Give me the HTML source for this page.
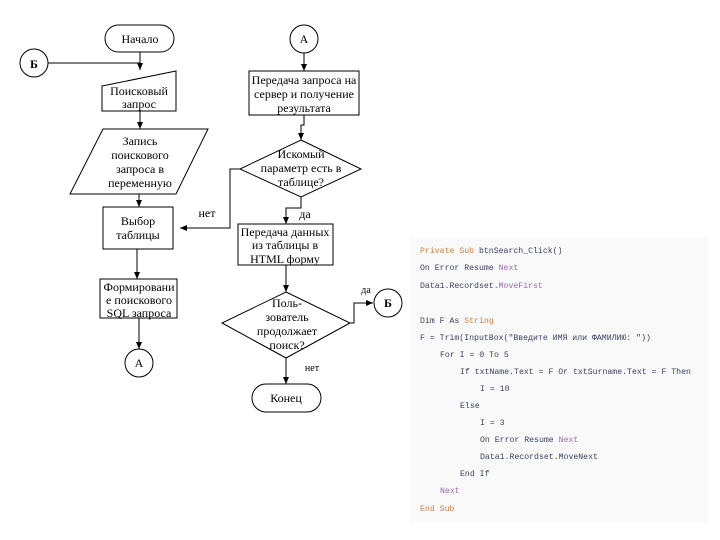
<!DOCTYPE html>
<html><head><meta charset="utf-8"><style>
body{margin:0;width:720px;height:540px;background:#fff;position:relative;overflow:hidden}
svg{position:absolute;left:0;top:0}
.code{position:absolute;left:410px;top:237px;width:298px;height:286px;background:#f9f9f9;font-family:"Liberation Mono",monospace;font-size:8.2px;color:#3a3f5c}
.code div{position:absolute;white-space:pre}
.k{color:#c8823e}.p{color:#9a6aa8}
</style></head><body>
<svg width="720" height="540" font-family="Liberation Serif, serif" font-size="12" text-anchor="middle" stroke="#000" fill="none" stroke-width="1">
<defs><marker id="a" markerWidth="8" markerHeight="8" refX="7" refY="4" orient="auto" markerUnits="userSpaceOnUse"><path d="M0,1 L7,4 L0,7z" fill="#000" stroke="none"/></marker></defs>
<rect x="105" y="25" width="69" height="27" rx="13.5"/>
<circle cx="34" cy="63" r="14"/>
<path d="M48,63H140"/>
<path d="M140,52V70" marker-end="url(#a)"/>
<path d="M102,86 L176,71 V111 H102Z"/>
<path d="M140,111V129" marker-end="url(#a)"/>
<path d="M103,129H208L176,194H70Z"/>
<path d="M139,194V207" marker-end="url(#a)"/>
<rect x="103" y="207" width="70" height="42"/>
<path d="M137,249V279" marker-end="url(#a)"/>
<rect x="100" y="279" width="77" height="39"/>
<path d="M139,318V349" marker-end="url(#a)"/>
<circle cx="139" cy="363" r="14"/>
<circle cx="304" cy="39" r="14"/>
<path d="M304,53V71" marker-end="url(#a)"/>
<rect x="249" y="71" width="110" height="44"/>
<path d="M304,115V125H301V140" marker-end="url(#a)"/>
<path d="M301,140L361,169L301,197L240,169Z"/>
<path d="M240,169H230V228H180" marker-end="url(#a)"/>
<path d="M301,197V208H286V224" marker-end="url(#a)"/>
<rect x="238" y="224" width="95" height="41"/>
<path d="M286,265V292" marker-end="url(#a)"/>
<path d="M286,292L350,323L286,358L222,323Z"/>
<path d="M350,323H354V303H373" marker-end="url(#a)"/>
<circle cx="388" cy="303" r="14"/>
<path d="M286,358V384" marker-end="url(#a)"/>
<rect x="252" y="384" width="69" height="28" rx="14"/>
<g fill="#000" stroke="none">
<text x="140" y="43">Начало</text>
<text x="34" y="68" font-weight="bold">Б</text>
<text x="139" y="95">Поисковый</text><text x="139" y="108">запрос</text>
<text x="140" y="145">Запись</text><text x="140" y="159">поискового</text><text x="140" y="173">запроса в</text><text x="140" y="187">переменную</text>
<text x="138" y="225">Выбор</text><text x="138" y="239">таблицы</text>
<text x="139" y="291">Формировани</text><text x="139" y="304">е поискового</text><text x="139" y="317">SQL запроса</text>
<text x="139" y="367">А</text>
<text x="304" y="43">А</text>
<text x="304" y="84">Передача запроса на</text><text x="304" y="98">сервер и получение</text><text x="304" y="112">результата</text>
<text x="301" y="158">Искомый</text><text x="301" y="172">параметр есть в</text><text x="301" y="186">таблице?</text>
<text x="207" y="217">нет</text><text x="305" y="218">да</text>
<text x="285" y="236">Передача данных</text><text x="285" y="249">из таблицы в</text><text x="285" y="263">HTML форму</text>
<text x="287" y="307">Поль-</text><text x="287" y="321">зователь</text><text x="287" y="335">продолжает</text><text x="287" y="349">поиск?</text>
<text x="366" y="293" font-size="10">да</text>
<text x="388" y="307" font-weight="bold">Б</text>
<text x="312" y="371" font-size="10">нет</text>
<text x="286" y="402">Конец</text>
</g>
</svg>
<div class="code">
<div style="left:10px;top:10px"><span class="k">Private Sub</span> btnSearch_Click()</div>
<div style="left:10px;top:27px">On Error Resume <span class="p">Next</span></div>
<div style="left:10px;top:45px">Data1.Recordset.<span class="p">MoveFirst</span></div>
<div style="left:10px;top:80px">Dim F As <span class="k">String</span></div>
<div style="left:10px;top:97px">F = Trim(InputBox("Введите ИМЯ или ФАМИЛИЮ: "))</div>
<div style="left:30px;top:114px">For I = 0 To 5</div>
<div style="left:50px;top:131px">If txtName.Text = F Or txtSurname.Text = F Then</div>
<div style="left:70px;top:148px">I = 10</div>
<div style="left:50px;top:165px">Else</div>
<div style="left:70px;top:182px">I = 3</div>
<div style="left:70px;top:199px">On Error Resume <span class="p">Next</span></div>
<div style="left:70px;top:216px">Data1.Recordset.MoveNext</div>
<div style="left:50px;top:233px">End If</div>
<div style="left:30px;top:250px" class="p">Next</div>
<div style="left:10px;top:268px"><span class="k">End Sub</span></div>
</div>
</body></html>
